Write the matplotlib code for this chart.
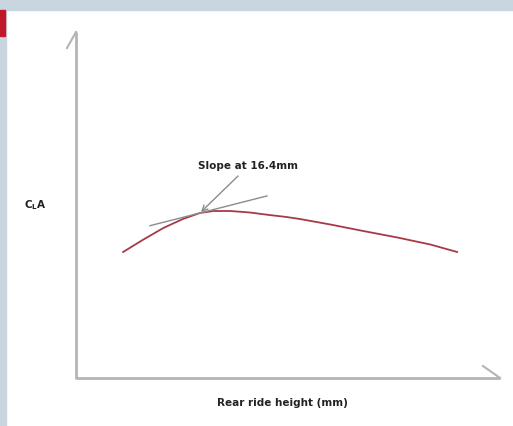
import matplotlib.pyplot as plt
from matplotlib.patches import Rectangle
from matplotlib import font_manager

# CLA against rear ride height, arbitrary downforce units
ride_height = [10.1, 11.7, 13.4, 15.0, 16.4, 17.5, 18.9, 20.5, 22.1, 23.5,
               24.6, 27.1, 29.8, 32.6, 35.3, 37.5]
cla = [1.26, 1.38, 1.50, 1.59, 1.65, 1.67, 1.67, 1.655, 1.63, 1.61,
       1.59, 1.535, 1.47, 1.405, 1.335, 1.26]

# tangent at the marked ride height
slope_at = 16.4
slope_cla = 1.65
slope = 0.031
tangent_x = [12.3, 21.9]

names = {f.name for f in font_manager.fontManager.ttflist}
print(sorted(n for n in names if "Cond" in n or "Narrow" in n))

W, H = 513, 426
fig = plt.figure(figsize=(W / 100, H / 100), dpi=100)
fig.patch.set_facecolor("white")

band = "#c9d6df"
fig.patches.append(Rectangle((0, 1 - 10 / H), 1, 10 / H, transform=fig.transFigure,
                             color=band, zorder=0))
fig.patches.append(Rectangle((0, 0), 6 / W, 1, transform=fig.transFigure,
                             color=band, zorder=0))
fig.patches.append(Rectangle((0, 1 - 36 / H), 5 / W, 26 / H, transform=fig.transFigure,
                             color="#c0182a", zorder=1))

font = "DejaVu Sans"
plt.rcParams["mathtext.fontset"] = "custom"
plt.rcParams["mathtext.rm"] = "DejaVu Sans:bold"

ax = fig.add_axes([76 / W, 48 / H, (500 - 76) / W, (378 - 32) / H])
ax.set_xlim(76 / 12.19, 500 / 12.19)
ax.set_ylim(0, 3.46)
ax.axis("off")

axis_col = "#b4b4b4"
ax.plot([0, 0, 1], [1, 0, 0], transform=ax.transAxes, color=axis_col, lw=2,
        clip_on=False, solid_capstyle="butt")
ax.plot([0, -9 / 424], [1, 1 - 16 / 346], transform=ax.transAxes, color=axis_col,
        lw=1.5, clip_on=False)
ax.plot([1, 1 - 17 / 424], [0, 12 / 346], transform=ax.transAxes, color=axis_col,
        lw=1.5, clip_on=False)

ax.plot(ride_height, cla, color="#a63a46", lw=1.3, solid_joinstyle="round")

ty = [slope_cla + slope * (x - slope_at) for x in tangent_x]
ax.plot(tangent_x, ty, color="#8c8c8c", lw=1)

ax.annotate("", xy=(slope_at, slope_cla), xytext=(238, 426 - 176),
            textcoords="figure pixels",
            arrowprops=dict(arrowstyle="->", color="#8c8c8c", lw=1,
                            shrinkA=0, shrinkB=1))

txt = dict(fontsize=7.5, fontweight="bold", family=font, color="#222222",
           ha="center", va="center")
fig.text(248 / W, 1 - 166 / H, "Slope at 16.4mm", **txt)
fig.text(282 / W, 1 - 403 / H, "Rear ride height (mm)", **txt)
fig.text(35 / W, 1 - 205 / H, r"C$_\mathregular{L}$A", **txt)

fig.savefig("out.png", dpi=100)
